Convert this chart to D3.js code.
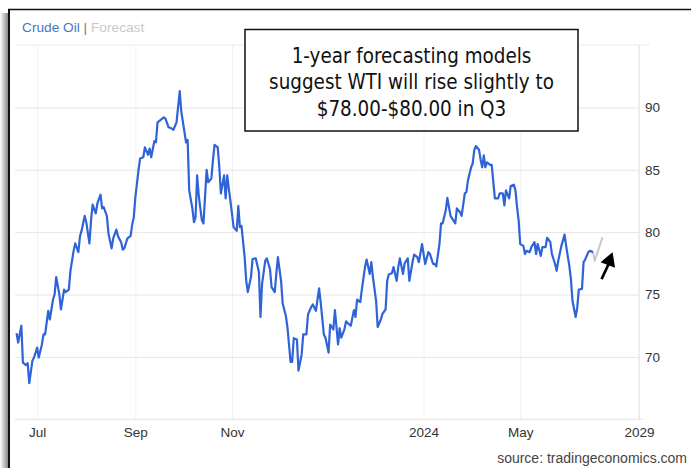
<!DOCTYPE html>
<html>
<head>
<meta charset="utf-8">
<script src="https://cdn.jsdelivr.net/npm/d3@7"></script>
<style>
  body { margin: 0; background: #fff; }
  svg { display: block; }
  .axis text { font-family: Arial, "Liberation Sans", sans-serif; font-size: 13.5px; fill: #333; }
</style>
</head>
<body>
<div id="chart"></div>
<script>
// WTI daily closes, day offsets counted from startDate
const startDate = new Date(2023, 5, 17);
const endDate = new Date(2024, 6, 15);

const dayOffsets = [
  1, 2, 4, 5, 7, 8, 9, 11, 12, 14, 15, 17, 18, 19, 21, 22, 24, 25, 26, 28,
  29, 31, 32, 34, 35, 37, 38, 40, 41, 42, 44, 45, 47, 48, 49, 51, 52, 54, 55, 56,
  58, 59, 61, 62, 64, 65, 67, 68, 69, 71, 73, 74, 75, 76, 78, 79, 81, 82, 84, 85,
  86, 88, 89, 90,
  92, 94, 95, 97, 99, 100, 102, 104, 105, 106, 108, 109, 110, 112, 113, 114, 115, 116, 118, 119,
  121, 122, 124, 125, 126, 128, 129, 130, 132, 133, 134, 135, 137, 138, 140, 141, 142, 143, 145, 146,
  147, 149, 150, 152, 154, 155, 156, 158, 159, 161, 162, 164, 165, 166, 168, 169, 171, 172, 174, 175,
  176, 178, 179, 181, 182, 184, 185, 187, 188,
  190, 192, 193, 195, 196, 198, 199, 201, 202, 204, 205, 206, 208, 209, 211, 212, 214, 215, 216, 218,
  219, 221, 222, 224, 225, 226, 228, 229, 231, 232, 234, 235, 236, 238, 239, 241, 242, 243, 245, 246,
  248, 249, 251, 252, 254, 255, 257, 258, 259, 261, 262, 264, 265, 266, 268, 269, 270, 272, 273, 275,
  276, 278, 279, 281, 282, 284,
  285, 286, 288, 289, 290, 291, 293, 294, 295, 296, 297, 298, 300, 301, 303, 305, 306, 308, 309, 310,
  312, 313, 315, 316, 317, 318, 319, 321, 322, 323, 325, 326, 328, 329, 330, 332, 333, 335, 336, 338,
  339, 341, 342, 343, 345, 347, 348, 350, 351, 352, 354, 355, 356, 358, 359, 360, 362, 363, 365
];

const prices = [
  71.9, 71.15, 72.5, 69.55, 69.35, 69.5, 67.9, 69.7, 69.95, 70.75, 69.95, 71.0, 71.8, 71.8, 73.7, 73.0, 74.6, 75.0, 76.4, 75.0,
  73.8, 75.4, 75.2, 75.4, 76.9, 78.5, 79.1, 78.4, 79.65, 80.1, 81.3, 80.8, 79.1, 80.9, 82.2, 81.5, 82.3, 83.0, 81.9, 82.0,
  81.3, 79.9, 78.7, 79.5, 80.2, 79.7, 79.2, 78.6, 78.7, 79.5, 79.7, 80.6, 81.2, 82.8, 85.0, 85.9, 86.0, 86.8, 86.2, 86.7,
  86.0, 87.3, 87.2, 88.8,
  89.0, 89.2, 89.1, 88.4, 88.3, 88.2, 88.8, 91.3, 89.65, 88.85, 87.2, 87.4, 83.35, 81.9, 80.8, 81.2, 84.55, 82.95, 80.95, 80.7,
  85.0, 84.0, 84.3, 85.8, 87.0, 86.8, 85.2, 83.1, 84.55, 82.7, 84.55, 83.5, 81.5, 80.4, 80.1, 82.1, 80.4, 80.5, 78.0, 76.1,
  75.2, 76.4, 77.85, 77.9, 76.8, 73.2, 75.85, 77.7, 77.9, 77.05, 75.6, 75.2, 76.65, 78.0, 76.1, 74.3, 73.3, 72.4, 69.6, 69.6,
  71.5, 71.4, 68.9, 70.2, 71.8, 71.8, 73.4, 74.0, 74.2,
  73.7, 75.5, 74.4, 71.8, 71.55, 70.35, 72.6, 72.2, 73.75, 71.0, 72.3, 71.55, 72.2, 72.85, 72.6, 72.5, 73.75, 73.2, 74.6, 74.4,
  75.4, 77.2, 77.8, 76.65, 77.6, 76.4, 74.5, 72.4, 73.0, 73.45, 73.8, 76.1, 76.6, 76.7, 77.2, 76.1, 77.2, 77.9, 76.65, 77.5,
  77.9, 76.1, 77.6, 78.2, 78.0, 77.6, 79.05, 78.25, 77.45, 78.4, 78.25, 77.45, 77.45, 77.25, 79.05, 80.7, 80.7, 81.75, 82.75, 81.3,
  81.1, 80.7, 81.9, 81.6, 81.3, 83.1,
  83.2, 84.15, 85.2, 85.5, 86.6, 86.9, 86.6, 85.8, 85.2, 86.15, 85.2, 85.6, 85.4, 85.4, 82.7, 82.7, 83.1, 83.1, 82.15, 83.35,
  82.7, 83.7, 83.8, 83.35, 82.0, 80.95, 79.05, 78.9, 78.25, 78.5, 78.4, 78.8, 79.2, 78.25, 79.05, 78.1, 78.8, 78.8, 79.55, 79.2,
  78.25, 77.45, 76.9, 77.7, 78.9, 79.8, 78.9, 77.3, 76.25, 74.5, 73.2, 73.95, 75.4, 75.45, 77.6, 77.8, 78.4, 78.5, 78.4
];

const forecastDays = [365, 366, 371];
const forecastPrices = [78.4, 77.7, 79.6];

const yTicks = [70, 75, 80, 85, 90];
const xTickDates = ['2023-07-01', '2023-09-01', '2023-11-01', '2024-03-01', '2024-05-01', '2024-07-15'];
const xTickLabels = ['Jul', 'Sep', 'Nov', '2024', 'May', '2029'];

const noteLines = ['1-year forecasting models', 'suggest WTI will rise slightly to', '$78.00-$80.00 in Q3'];

const W = 691, H = 468;
const plot = { left: 15, right: 639, top: 45, bottom: 419.3 };

const svg = d3.select('#chart').append('svg').attr('width', W).attr('height', H);

// screenshot frame: shadow + dark border on the top and left
const defs = svg.append('defs');
const grad = defs.append('linearGradient').attr('id', 'shadow').attr('x1', 0).attr('x2', 1);
grad.append('stop').attr('offset', 0).attr('stop-color', '#fff');
grad.append('stop').attr('offset', 1).attr('stop-color', '#8a8a8a');
svg.append('rect').attr('x', 0).attr('y', 13).attr('width', 8).attr('height', H - 13).attr('fill', 'url(#shadow)');
svg.append('line').attr('x1', 8).attr('x2', W).attr('y1', 9.5).attr('y2', 9.5).attr('stroke', '#111').attr('stroke-width', 1.6);
svg.append('line').attr('x1', 9).attr('x2', 9).attr('y1', 9).attr('y2', H).attr('stroke', '#111').attr('stroke-width', 2);

const toDate = d => d3.timeDay.offset(startDate, d);

const x = d3.scaleTime().domain([startDate, endDate]).range([plot.left, plot.right]);
const y = d3.scaleLinear().domain([65, 95]).range([plot.bottom, plot.top]);

// title
const title = svg.append('text').attr('x', 22).attr('y', 32)
  .style('font-family', 'Arial, "Liberation Sans", sans-serif').style('font-size', '13.7px');
title.append('tspan').attr('fill', '#4a76c6').text('Crude Oil');
title.append('tspan').attr('fill', '#777').text(' | ');
title.append('tspan').attr('fill', '#c9c9c9').text('Forecast');

svg.append('line').attr('x1', 16).attr('x2', 650).attr('y1', plot.top).attr('y2', plot.top)
  .attr('stroke', '#ececec');

// x grid + labels
const xAxis = svg.append('g').attr('class', 'axis x')
  .attr('transform', `translate(0,${plot.bottom})`)
  .call(d3.axisBottom(x)
    .tickValues(xTickDates.map(d3.timeParse('%Y-%m-%d')))
    .tickFormat((d, i) => xTickLabels[i])
    .tickSize(-(plot.bottom - plot.top))
    .tickPadding(8));
xAxis.select('.domain').remove();
xAxis.selectAll('.tick line').attr('stroke', '#f1f1f1');

// y grid + labels on the right
const yAxis = svg.append('g').attr('class', 'axis y')
  .attr('transform', `translate(${plot.right},0)`)
  .call(d3.axisRight(y)
    .tickValues(yTicks)
    .tickSize(-(plot.right - plot.left))
    .tickPadding(6));
yAxis.select('.domain').remove();
yAxis.selectAll('.tick line').attr('stroke', '#e6e6e6');

svg.append('line').attr('x1', plot.right).attr('x2', plot.right).attr('y1', plot.top).attr('y2', plot.bottom)
  .attr('stroke', '#e4e4e4');
svg.append('line').attr('x1', plot.left).attr('x2', plot.right + 4).attr('y1', plot.bottom).attr('y2', plot.bottom)
  .attr('stroke', '#e2e2e2');

// series
const series = dayOffsets.map((d, i) => ({ date: toDate(d), value: prices[i] }));
const forecast = forecastDays.map((d, i) => ({ date: toDate(d), value: forecastPrices[i] }));

const line = d3.line().x(d => x(d.date)).y(d => y(d.value));

svg.append('path').datum(forecast).attr('d', line)
  .attr('fill', 'none').attr('stroke', '#c8c8c8').attr('stroke-width', 2).attr('stroke-linejoin', 'round');
svg.append('path').datum(series).attr('d', line)
  .attr('fill', 'none').attr('stroke', '#2f63d8').attr('stroke-width', 2.2).attr('stroke-linejoin', 'round');

// source
svg.append('text').attr('x', 687).attr('y', 463).attr('text-anchor', 'end')
  .style('font-family', 'Arial, "Liberation Sans", sans-serif').style('font-size', '14px').attr('fill', '#444')
  .text('source: tradingeconomics.com');

// annotation box
const note = svg.append('g');
note.append('rect').attr('x', 245).attr('y', 29.5).attr('width', 333).attr('height', 101.5)
  .attr('fill', '#fff').attr('stroke', '#111').attr('stroke-width', 1.5);
note.selectAll('text').data(noteLines).join('text')
  .attr('x', 411.5).attr('y', (d, i) => 62.5 + i * 26.5).attr('text-anchor', 'middle')
  .style('font-family', '"DejaVu Sans Condensed", "DejaVu Sans", sans-serif').style('font-size', '20.4px')
  .attr('fill', '#111').text(d => d);

// arrow pointing at the forecast end
const last = forecast[forecast.length - 1];
const tipX = x(last.date) + 10, tipY = y(last.value) + 15;
svg.append('line').attr('x1', tipX - 11).attr('y1', tipY + 27).attr('x2', tipX - 4).attr('y2', tipY + 12)
  .attr('stroke', '#000').attr('stroke-width', 2.6);
svg.append('path')
  .attr('d', `M${tipX},${tipY} L${tipX - 12},${tipY + 10} L${tipX + 2.5},${tipY + 15.5} Z`)
  .attr('fill', '#000');
</script>
</body>
</html>
